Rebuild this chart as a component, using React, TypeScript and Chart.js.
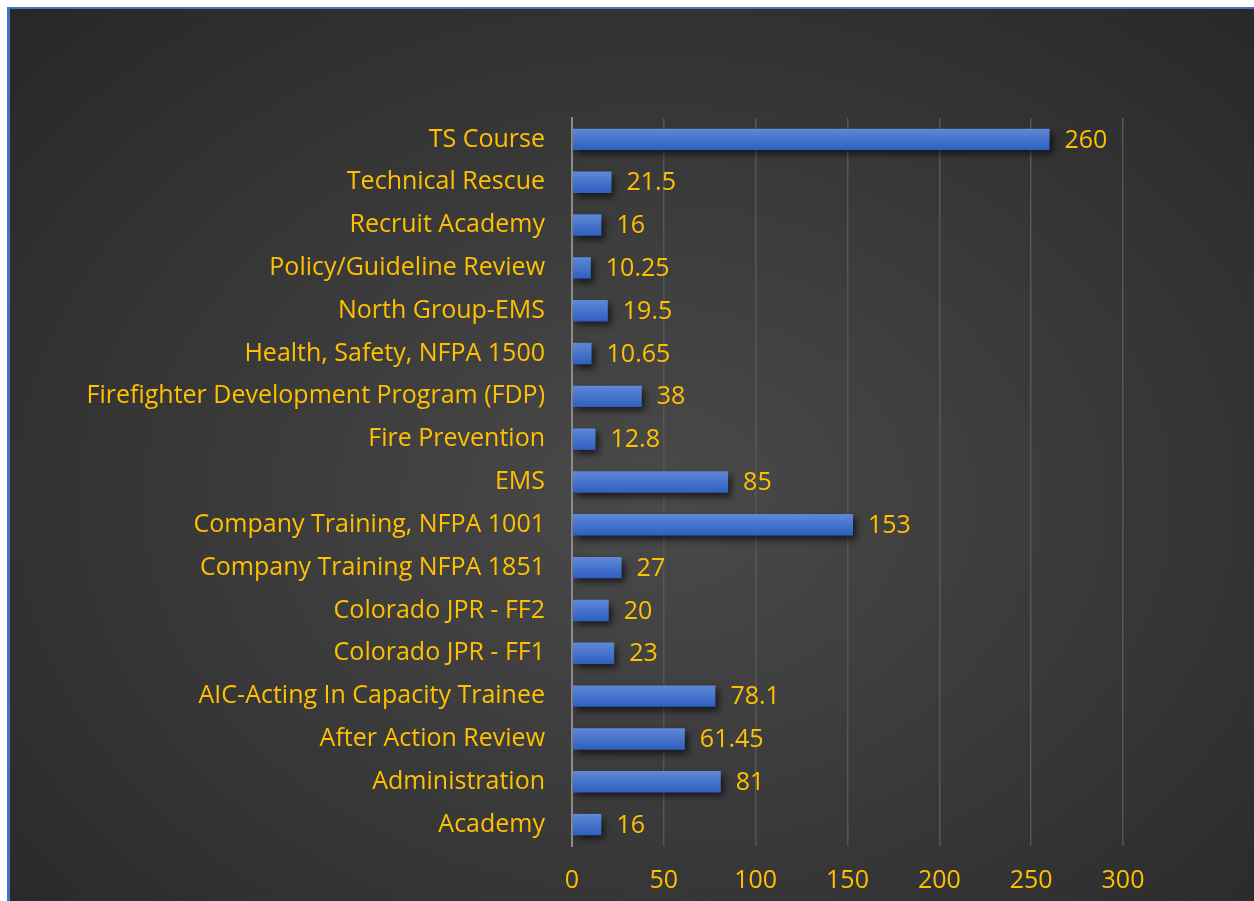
import React, { useEffect, useRef } from "react";
import { Chart, registerables } from "chart.js";

Chart.register(...registerables);

const categories = [
  "TS Course",
  "Technical Rescue",
  "Recruit Academy",
  "Policy/Guideline Review",
  "North Group-EMS",
  "Health, Safety, NFPA 1500",
  "Firefighter Development Program (FDP)",
  "Fire Prevention",
  "EMS",
  "Company Training, NFPA 1001",
  "Company Training NFPA 1851",
  "Colorado JPR - FF2",
  "Colorado JPR - FF1",
  "AIC-Acting In Capacity Trainee",
  "After Action Review",
  "Administration",
  "Academy",
];

const hours = [260, 21.5, 16, 10.25, 19.5, 10.65, 38, 12.8, 85, 153, 27, 20, 23, 78.1, 61.45, 81, 16];

const xTicks = [0, 50, 100, 150, 200, 250, 300];

const GOLD = "#FFC000";
const FONT = "'Open Sans', 'Liberation Sans', sans-serif";
const FONT_SIZE = 25;

export default function App() {
  const ref = useRef<HTMLCanvasElement | null>(null);

  useEffect(() => {
    if (!ref.current) return;
    const barShadow = {
      id: "barShadow",
      beforeDatasetsDraw(chart: any) {
        const ctx = chart.ctx;
        ctx.save();
        ctx.shadowColor = "rgba(0,0,0,0.65)";
        ctx.shadowBlur = 7;
        ctx.shadowOffsetX = 3;
        ctx.shadowOffsetY = 4;
      },
      afterDatasetsDraw(chart: any) {
        const ctx = chart.ctx;
        ctx.restore();
        ctx.save();
        ctx.fillStyle = GOLD;
        ctx.font = `${FONT_SIZE}px ${FONT}`;
        ctx.textAlign = "left";
        ctx.textBaseline = "middle";
        const meta = chart.getDatasetMeta(0);
        meta.data.forEach((el: any, i: number) => {
          ctx.fillText(String(hours[i]), el.x + 15, el.y + 1);
        });
        ctx.restore();
      },
    };

    const chart = new Chart(ref.current, {
      type: "bar",
      data: {
        labels: categories,
        datasets: [
          {
            data: hours,
            barPercentage: 0.5,
            categoryPercentage: 1,
            borderWidth: 0,
            backgroundColor: (c: any) => {
              const ch = c.chart;
              const ys = ch.scales && ch.scales.y;
              if (!ys || c.dataIndex === undefined) return "#4472C4";
              const mid = ys.getPixelForValue(c.dataIndex);
              if (!isFinite(mid)) return "#4472C4";
              const h = 10.7;
              const g = ch.ctx.createLinearGradient(0, mid - h, 0, mid + h);
              g.addColorStop(0, "#5f89d8");
              g.addColorStop(1, "#2e5fbf");
              return g;
            },
          },
        ],
      },
      options: {
        indexAxis: "y",
        animation: false,
        responsive: false,
        layout: { padding: { top: 109, right: 131, left: 0, bottom: 0 } },
        plugins: {
          legend: { display: false },
          tooltip: { enabled: false },
        },
        scales: {
          x: {
            min: 0,
            max: 300,
            afterBuildTicks: (s: any) => {
              s.ticks = xTicks.map((v) => ({ value: v }));
            },
            afterFit: (s: any) => {
              s.height = 55;
            },
            grid: {
              drawTicks: false,
              color: (c: any) => (c.tick && c.tick.value === 0 ? "#8c8c8c" : "#565656"),
              lineWidth: (c: any) => (c.tick && c.tick.value === 0 ? 2 : 1.5),
            },
            border: { display: false },
            ticks: {
              color: GOLD,
              padding: 20,
              font: { family: FONT, size: FONT_SIZE },
            },
          },
          y: {
            afterFit: (s: any) => {
              s.width = 562;
            },
            grid: { display: false, drawTicks: false },
            border: { display: true, color: "#8c8c8c", width: 2 },
            ticks: {
              color: GOLD,
              padding: 27,
              font: { family: FONT, size: FONT_SIZE },
            },
          },
        },
      },
      plugins: [barShadow],
    });
    return () => chart.destroy();
  }, []);

  return (
    <div
      style={{
        position: "fixed",
        left: 7,
        top: 7,
        width: 1244,
        height: 892,
        borderTop: "2px solid #4472C4",
        borderLeft: "3px solid #4472C4",
        background:
          "radial-gradient(ellipse 75% 80% at 52% 55%, #4a4a4a 0%, #3a3a3a 45%, #262626 100%)",
        overflow: "hidden",
      }}
    >
      <canvas ref={ref} width={1244} height={892} style={{ display: "block" }} />
    </div>
  );
}
